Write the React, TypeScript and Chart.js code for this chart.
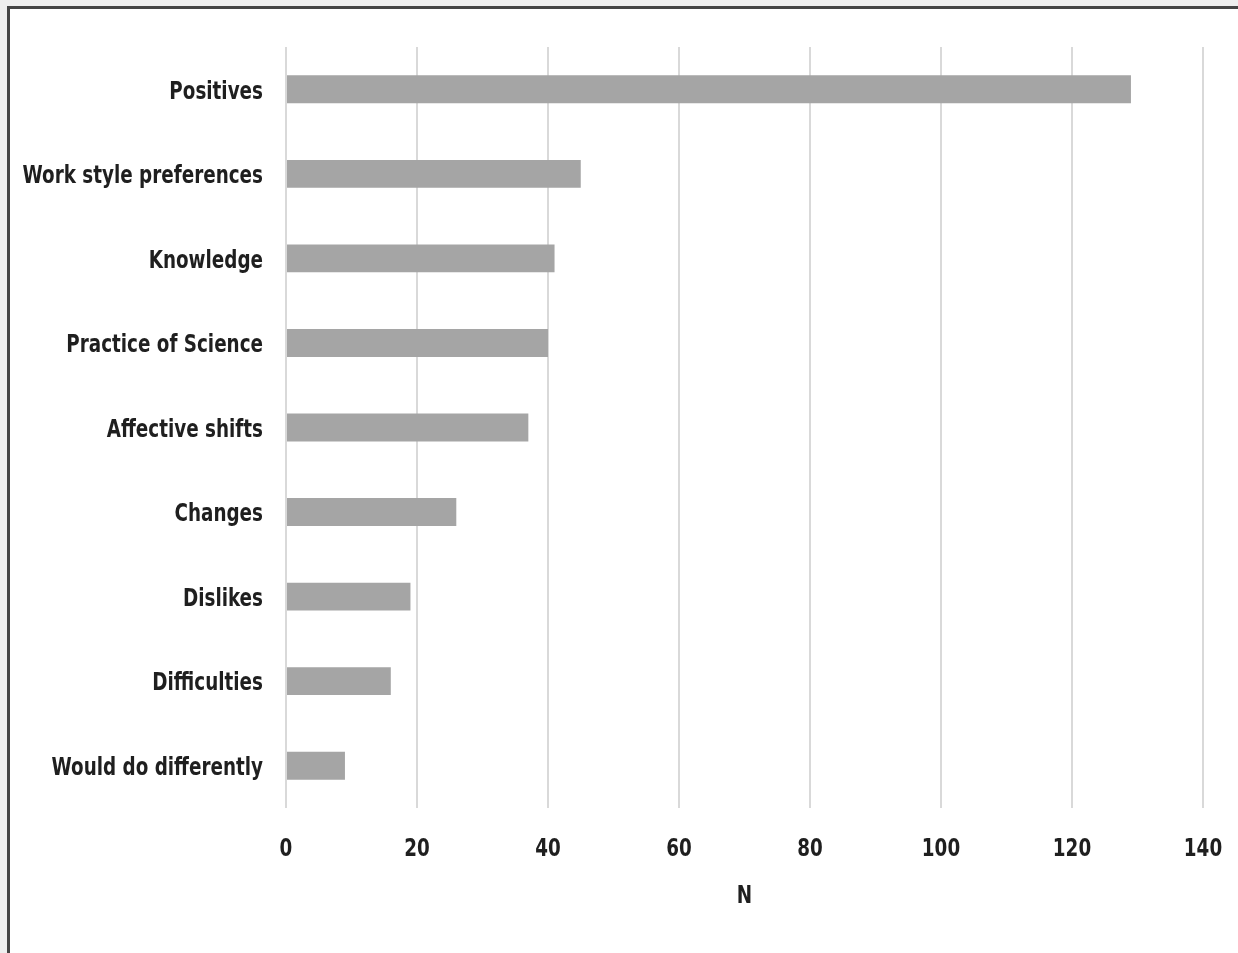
import React, { useEffect, useRef } from "react";
import { Chart, registerables } from "chart.js";

Chart.register(...registerables);

// Response categories, top to bottom
const categories: string[] = [
  "Positives",
  "Work style preferences",
  "Knowledge",
  "Practice of Science",
  "Affective shifts",
  "Changes",
  "Dislikes",
  "Difficulties",
  "Would do differently",
];

// Number of responses per category
const counts: number[] = [129, 45, 41, 40, 37, 26, 19, 16, 9];

// Horizontal axis range
const axisMin = 0;
const axisMax = 140;
const axisStep = 20;
const axisTitle = "N";

const FONT_FAMILY = '"Liberation Sans Narrow", "DejaVu Sans Condensed", "Arial Narrow", sans-serif';
const FONT = `bold 24px ${FONT_FAMILY}`;
const TEXT = "#1f1f1f";
// horizontal squeeze applied to the bold labels for a narrow face
const CONDENSE = 0.85;

function condensedText(
  ctx: CanvasRenderingContext2D,
  text: string,
  x: number,
  y: number,
  align: CanvasTextAlign
) {
  ctx.save();
  ctx.translate(x, y);
  ctx.scale(CONDENSE, 1);
  ctx.textAlign = align;
  ctx.textBaseline = "middle";
  ctx.fillText(text, 0, 0);
  ctx.restore();
}

// Draws the category labels, value ticks and axis title in a narrow bold face
const narrowLabels = {
  id: "narrowLabels",
  afterDraw(chart: any) {
    const { ctx, chartArea, scales } = chart;
    const xs = scales.x;
    const ys = scales.y;
    ctx.save();
    ctx.font = FONT;
    ctx.fillStyle = TEXT;
    categories.forEach((label, i) => {
      condensedText(ctx, label, chartArea.left - 23, ys.getPixelForTick(i) + 3, "right");
    });
    xs.ticks.forEach((t: any) => {
      condensedText(ctx, String(t.value), xs.getPixelForValue(t.value), chartArea.bottom + 42, "center");
    });
    condensedText(ctx, axisTitle, (chartArea.left + chartArea.right) / 2, chartArea.bottom + 89, "center");
    ctx.restore();
  },
};

export default function App() {
  const canvasRef = useRef<HTMLCanvasElement | null>(null);

  useEffect(() => {
    document.body.style.margin = "0";
    const canvas = canvasRef.current;
    if (!canvas) return;
    const chart = new Chart(canvas, {
      type: "bar",
      data: {
        labels: categories,
        datasets: [
          {
            data: counts,
            backgroundColor: "#a5a5a5",
            borderWidth: 0,
            barPercentage: 0.66,
            categoryPercentage: 0.5,
          },
        ],
      },
      options: {
        indexAxis: "y",
        animation: false,
        responsive: false,
        devicePixelRatio: 1,
        layout: { padding: { top: 47, right: 35, left: 0, bottom: 0 } },
        plugins: {
          legend: { display: false },
          tooltip: { enabled: false },
        },
        scales: {
          x: {
            min: axisMin,
            max: axisMax,
            grid: {
              color: "#d9d9d9",
              lineWidth: 2,
              drawTicks: false,
            },
            border: { display: false },
            ticks: { stepSize: axisStep, display: false },
            afterFit: (scale: any) => {
              scale.height = 145;
            },
          },
          y: {
            grid: { display: false, drawTicks: false },
            border: { display: false },
            ticks: { display: false },
            afterFit: (scale: any) => {
              scale.width = 286;
            },
          },
        },
      },
      plugins: [narrowLabels],
    });
    return () => chart.destroy();
  }, []);

  return (
    <div>
      <div
        style={{
          position: "fixed",
          left: 0,
          top: 0,
          width: 1238,
          height: 953,
          background: "#efefef",
        }}
      />
      <div
        style={{
          position: "fixed",
          left: 7,
          top: 6,
          width: 1260,
          height: 980,
          border: "3px solid #454545",
          background: "#ffffff",
        }}
      />
      <canvas
        ref={canvasRef}
        width={1238}
        height={953}
        style={{ position: "fixed", left: 0, top: 0, width: 1238, height: 953 }}
      />
    </div>
  );
}
